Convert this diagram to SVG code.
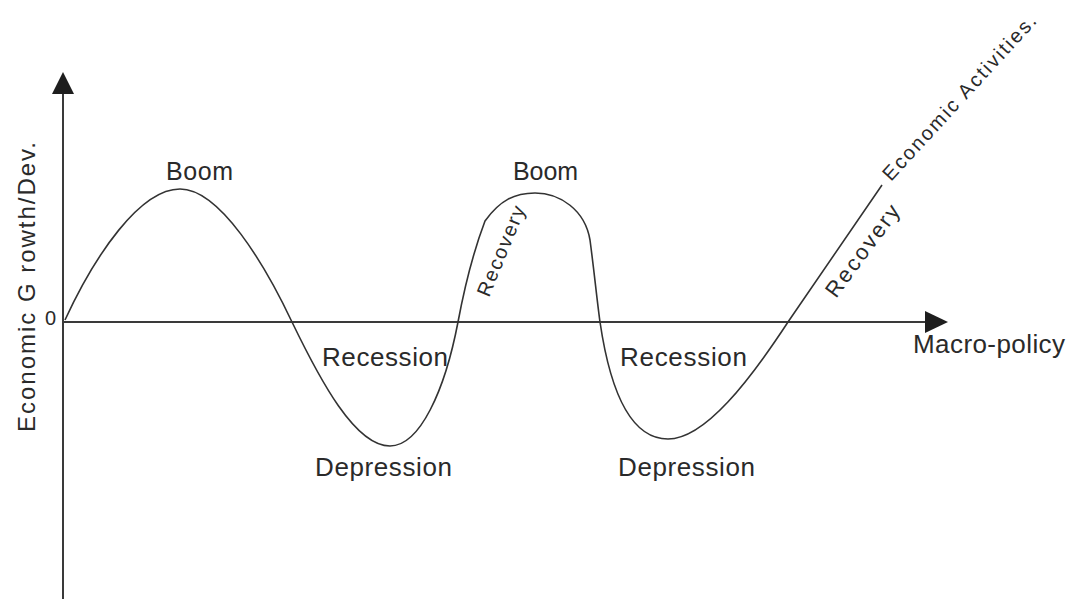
<svg xmlns="http://www.w3.org/2000/svg" width="1067" height="599" viewBox="0 0 1067 599">
<style>
.lbl{font-family:"Liberation Sans",Arial,sans-serif;fill:#2a2a2a;}
.axis{stroke:#3a3a3a;stroke-width:2;fill:none;}
.head{fill:#1e1e1e;stroke:none;}
.curve{stroke:#333;stroke-width:1.6;fill:none;stroke-linejoin:round;}
</style>
<rect width="1067" height="599" fill="#ffffff"/>
<g id="connectors">
  <g id="y-axis">
    <line class="axis" x1="63" y1="90" x2="63" y2="599"/>
    <polygon class="head" points="63,72 52,94 74,94"/>
  </g>
  <g id="x-axis">
    <line class="axis" x1="62" y1="322" x2="928" y2="322"/>
    <polygon class="head" points="948,322 925,311 925,333"/>
  </g>
  <path id="cycle-curve" class="curve" d="M65,320 C95,255 140,189 180,189 C220,189 265,265 292,322 C320,380 355,446 390,446 C420,446 445,390 458,322 C464,290 474,250 485,221 C500,200 515,193 535,193 C560,193 585,210 590,240 C594,270 597,300 600,322 C610,390 630,439 668,439 C705,439 750,380 788,322 L882,185"/>
</g>
<g id="axis-labels">
  <text class="lbl" font-size="24" transform="translate(35,432) rotate(-90)" textLength="290" lengthAdjust="spacing">Economic G rowth/Dev.</text>
  <text class="lbl" font-size="20" x="45" y="325">0</text>
  <text class="lbl" font-size="26" x="913" y="353" textLength="152" lengthAdjust="spacing">Macro-policy</text>
</g>
<g id="boom-1"><text class="lbl" font-size="25" x="166" y="180" textLength="67" lengthAdjust="spacing">Boom</text></g>
<g id="boom-2"><text class="lbl" font-size="25" x="513" y="180" textLength="65" lengthAdjust="spacing">Boom</text></g>
<g id="recession-1"><text class="lbl" font-size="26" x="322" y="366" textLength="126" lengthAdjust="spacing">Recession</text></g>
<g id="recession-2"><text class="lbl" font-size="26" x="620" y="366" textLength="127" lengthAdjust="spacing">Recession</text></g>
<g id="depression-1"><text class="lbl" font-size="26" x="315" y="476" textLength="137" lengthAdjust="spacing">Depression</text></g>
<g id="depression-2"><text class="lbl" font-size="26" x="618" y="476" textLength="137" lengthAdjust="spacing">Depression</text></g>
<g id="recovery-1"><text class="lbl" font-size="20" transform="translate(489,298) rotate(-67.7)" textLength="96" lengthAdjust="spacing">Recovery</text></g>
<g id="recovery-2"><text class="lbl" font-size="22" transform="translate(836,299) rotate(-53.5)" textLength="109" lengthAdjust="spacing">Recovery</text></g>
<g id="economic-activities"><text class="lbl" font-size="20" transform="translate(891,182) rotate(-47.5)" textLength="217" lengthAdjust="spacing">Economic Activities.</text></g>
</svg>
